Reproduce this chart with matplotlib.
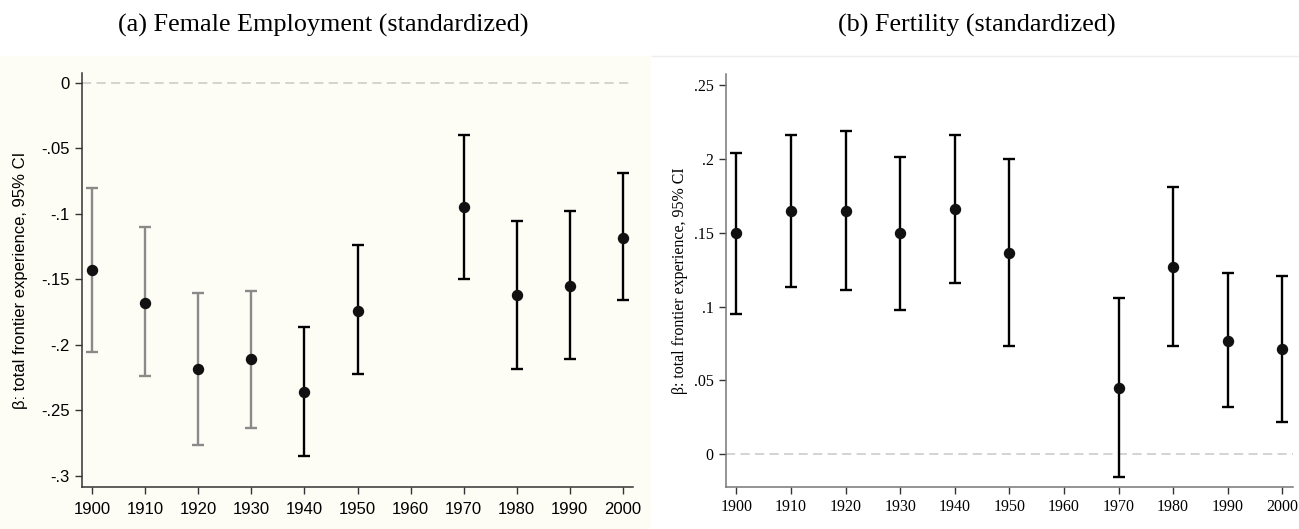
#!/usr/bin/python3
from matplotlib import pyplot as plt
import matplotlib.patches as mpatches
import numpy as np

# decade cohorts, 1960 has no estimate
years = [1900, 1910, 1920, 1930, 1940, 1950, 1970, 1980, 1990, 2000]

# (a) female employment: point estimate and 95% CI bounds
emp_beta = [-0.143, -0.168, -0.218, -0.211, -0.236, -0.174, -0.095, -0.162, -0.155, -0.118]
emp_lo = [-0.205, -0.224, -0.276, -0.263, -0.285, -0.222, -0.150, -0.218, -0.211, -0.166]
emp_hi = [-0.080, -0.110, -0.160, -0.159, -0.186, -0.124, -0.040, -0.105, -0.098, -0.069]
# first four cohorts are drawn faded
emp_faded = [True, True, True, True, False, False, False, False, False, False]

# (b) fertility
fert_beta = [0.150, 0.165, 0.165, 0.150, 0.166, 0.136, 0.045, 0.127, 0.077, 0.071]
fert_lo = [0.095, 0.113, 0.111, 0.098, 0.116, 0.073, -0.015, 0.073, 0.032, 0.022]
fert_hi = [0.204, 0.216, 0.219, 0.201, 0.216, 0.200, 0.106, 0.181, 0.123, 0.121]

xticks = [1900, 1910, 1920, 1930, 1940, 1950, 1960, 1970, 1980, 1990, 2000]
emp_yticks = [0, -0.05, -0.1, -0.15, -0.2, -0.25, -0.3]
emp_yticklabels = ["0", "-.05", "-.1", "-.15", "-.2", "-.25", "-.3"]
fert_yticks = [0, 0.05, 0.1, 0.15, 0.2, 0.25]
fert_yticklabels = ["0", ".05", ".1", ".15", ".2", ".25"]

ylabel = "\u03b2: total frontier experience, 95% CI"
SANS = "Liberation Sans"
SERIF = "Liberation Serif"


def draw_panel(ax, beta, lo, hi, faded, family, spine_col, fsize, pad):
    beta = np.array(beta)
    lo = np.array(lo)
    hi = np.array(hi)
    ax.axhline(0, color='#c8c8c8', linestyle=(0, (6, 3.5)), linewidth=1.1, zorder=1)
    for i, yr in enumerate(years):
        col = '#8a8a8a' if faded[i] else 'black'
        dot = '#111111'
        ax.errorbar([yr], [beta[i]], yerr=[[beta[i] - lo[i]], [hi[i] - beta[i]]],
                    fmt='none', ecolor=col, elinewidth=1.7, capsize=4.2,
                    capthick=1.7, zorder=2)
        ax.plot([yr], [beta[i]], 'o', color=dot, markersize=7.2, zorder=3)
    for side in ['top', 'right']:
        ax.spines[side].set_visible(False)
    for side in ['left', 'bottom']:
        ax.spines[side].set_color(spine_col)
        ax.spines[side].set_linewidth(1.1)
    ax.set_xticks(xticks)
    ax.set_xticklabels([str(x) for x in xticks], family=family, fontsize=fsize)
    ax.tick_params(axis='both', direction='out', length=5, width=1.0, color='#333333', pad=4)
    ax.tick_params(axis='x', pad=pad)
    ax.set_ylabel(ylabel, family=family, fontsize=fsize)
    ax.set_xlim(1898.1, 2001.9)
    ax.set_facecolor('none')


fig = plt.figure(figsize=(12.99, 5.29), dpi=100)

# tinted background behind panel (a)
fig.patches.append(mpatches.Rectangle((0, 0), 651 / 1299, 473 / 529,
                                      transform=fig.transFigure,
                                      facecolor='#fdfdf5', edgecolor='none', zorder=-2))
fig.add_artist(plt.Line2D([652 / 1299, 1.0], [473 / 529, 473 / 529],
                          transform=fig.transFigure, color='#eeeeee', linewidth=1,
                          zorder=-2))

ax1 = fig.add_axes([82 / 1299, 42 / 529, 551 / 1299, 414 / 529])
draw_panel(ax1, emp_beta, emp_lo, emp_hi, emp_faded, SANS, '#333333', 12, 5.5)
ax1.set_ylim(-0.3084, 0.0076)
ax1.set_yticks(emp_yticks)
ax1.set_yticklabels(emp_yticklabels, family=SANS, fontsize=12)
ax1.yaxis.set_label_coords(-0.098, 0.5)

ax2 = fig.add_axes([726 / 1299, 42.3 / 529, 566.7 / 1299, 412.7 / 529])
draw_panel(ax2, fert_beta, fert_lo, fert_hi, [False] * len(years), SERIF, '#777777', 11.5, 4)
ax2.set_ylim(-0.0219, 0.2574)
ax2.set_yticks(fert_yticks)
ax2.set_yticklabels(fert_yticklabels, family=SERIF, fontsize=11.5)
ax2.yaxis.set_label_coords(-0.067, 0.5)

fig.text(323 / 1299, 1 - 25 / 529, "(a) Female Employment (standardized)",
         family=SERIF, fontsize=18.8, ha='center', va='center')
fig.text(977 / 1299, 1 - 25 / 529, "(b) Fertility (standardized)",
         family=SERIF, fontsize=18.8, ha='center', va='center')

fig.savefig("out.png", dpi=100)
plt.close(fig)
